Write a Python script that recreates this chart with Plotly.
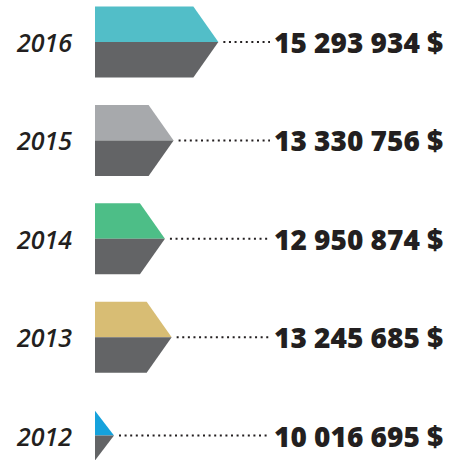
import plotly.graph_objects as go

# ---- data ----
years = ["2016", "2015", "2014", "2013", "2012"]
values = [15293934, 13330756, 12950874, 13245685, 10016695]
top_colors = ["#52BEC8", "#A7A9AC", "#4DBE87", "#D8BD74", "#15A2DC"]
bottom_color = "#636466"
size_factor = [1.0, 1.0, 1.0, 1.0, 0.7]

# ---- scale setup ----
W, H = 462, 460
PX_PER_UNIT = 22.8e-6           # pixels per dollar
BASE = 10_980_000               # value at bar origin
ORIGIN_PX = 95
x0 = BASE - ORIGIN_PX / PX_PER_UNIT
x1 = x0 + W / PX_PER_UNIT
ROW_PX = 98.4
FIRST_ROW_PX = 42
y_top = -FIRST_ROW_PX / ROW_PX
y_bot = (H - FIRST_ROW_PX) / ROW_PX

def px2x(px):
    return x0 + px / PX_PER_UNIT

fig = go.Figure()

for i, (yr, v) in enumerate(zip(years, values)):
    s = size_factor[i]
    half = 35.5 / ROW_PX * s
    tip = (25 if s == 1.0 else 19) / PX_PER_UNIT
    L = BASE
    R = max(v, BASE)
    yc = i
    # top colored half
    fig.add_trace(go.Scatter(
        x=[L, R, R + tip, L, L], y=[yc - half, yc - half, yc, yc, yc - half],
        fill="toself", fillcolor=top_colors[i], mode="lines",
        line=dict(width=0, color=top_colors[i]), hoverinfo="skip", showlegend=False))
    # bottom dark half
    fig.add_trace(go.Scatter(
        x=[L, R + tip, R, L, L], y=[yc, yc, yc + half, yc + half, yc],
        fill="toself", fillcolor=bottom_color, mode="lines",
        line=dict(width=0, color=bottom_color), hoverinfo="skip", showlegend=False))
    # dotted leader
    fig.add_trace(go.Scatter(
        x=[R + tip + 5 / PX_PER_UNIT, px2x(270)], y=[yc, yc], mode="lines",
        line=dict(color="#231F20", width=2, dash="2px,3.6px"),
        hoverinfo="skip", showlegend=False))
    # year label
    fig.add_annotation(x=44 / W, xref="paper", y=yc, yref="y", text=yr,
                       showarrow=False, xanchor="center", yanchor="middle",
                       font=dict(family="Open Sans", size=25, color="#231F20",
                                 style="italic", weight=600))
    # value label
    label = f"{v:,}".replace(",", " ") + " $"
    fig.add_annotation(x=272 / W, xref="paper", y=yc, yref="y", text=label,
                       showarrow=False, xanchor="left", yanchor="middle",
                       font=dict(family="Open Sans", size=28, color="#231F20",
                                 weight=800))

fig.update_xaxes(range=[x0, x1], visible=False, fixedrange=True)
fig.update_yaxes(range=[y_bot, y_top], visible=False, fixedrange=True)
fig.update_layout(width=W, height=H, margin=dict(l=0, r=0, t=0, b=0),
                  plot_bgcolor="white", paper_bgcolor="white", showlegend=False)

fig.write_html("out.html", config={"displayModeBar": False},
               post_script="document.body.style.margin='0';document.body.style.overflow='hidden';")
